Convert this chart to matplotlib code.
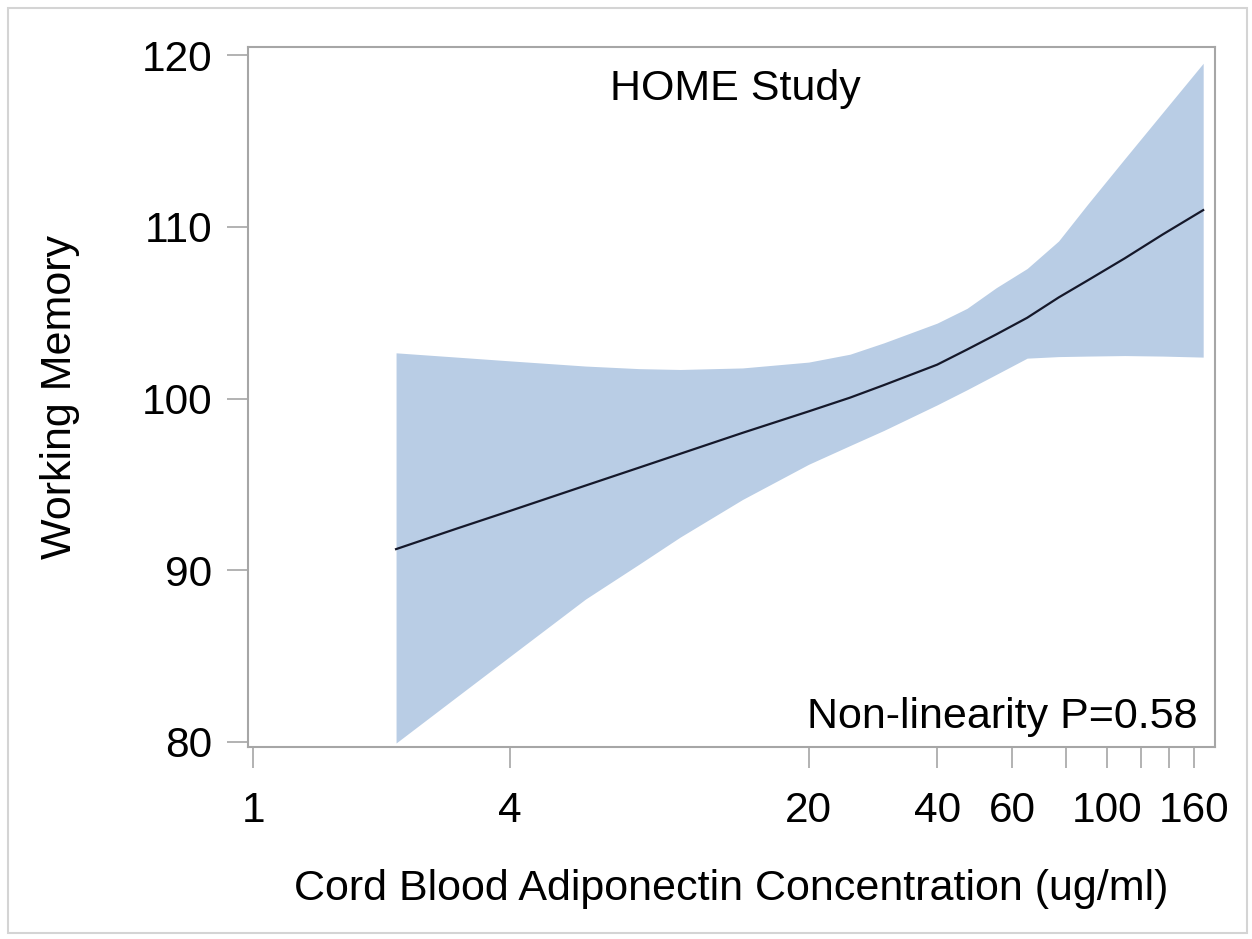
# ==========================================
# HOME STUDY - WORKING MEMORY vs ADIPONECTIN
# ==========================================

import matplotlib
matplotlib.use("Agg")
import matplotlib.pyplot as plt
from matplotlib.patches import Rectangle
from matplotlib.ticker import FixedLocator, NullLocator, NullFormatter

plt.rcParams["font.family"] = ["Liberation Sans", "DejaVu Sans"]

# ------------------------------------------
# 1. Data
# ------------------------------------------

adiponectin = [2.16, 3, 4, 6, 8, 10, 14, 20, 25, 30,
               40, 47, 55, 65, 77, 90, 110, 135, 168]

estimate = [91.23, 92.43, 93.46, 94.93, 95.97, 96.78, 98.00, 99.25, 100.05, 100.78,
            101.97, 102.85, 103.73, 104.70, 105.88, 106.87, 108.16, 109.55, 110.97]

upper_ci = [102.66, 102.41, 102.19, 101.89, 101.74, 101.69, 101.78, 102.12, 102.58, 103.24,
            104.39, 105.25, 106.45, 107.57, 109.17, 111.30, 113.96, 116.65, 119.52]

lower_ci = [79.94, 82.64, 85.00, 88.32, 90.34, 91.93, 94.12, 96.17, 97.26, 98.14,
            99.63, 100.51, 101.40, 102.35, 102.44, 102.47, 102.50, 102.47, 102.41]

x_ticks = [1, 4, 20, 40, 60, 80, 100, 120, 140, 160]
x_labels = ["1", "4", "20", "40", "60", "", "100", "", "", "160"]
y_ticks = [80, 90, 100, 110, 120]

# ------------------------------------------
# 2. Figure
# ------------------------------------------

fig = plt.figure(figsize=(12.52, 9.39), dpi=100)
ax = fig.add_axes([0.1981, 0.2045, 0.7723, 0.7455])

frame_color = "#A6A6A6"

ax.fill_between(adiponectin, lower_ci, upper_ci,
                color="#B9CDE5", linewidth=0)
ax.plot(adiponectin, estimate, color="#15182a", linewidth=1.6)

ax.set_xscale("log")
ax.set_xlim(0.972, 179)
ax.set_ylim(79.71, 120.47)

ax.xaxis.set_major_locator(FixedLocator(x_ticks))
ax.set_xticklabels(x_labels)
ax.xaxis.set_minor_locator(NullLocator())
ax.xaxis.set_minor_formatter(NullFormatter())
ax.set_yticks(y_ticks)

for spine in ax.spines.values():
    spine.set_color(frame_color)
    spine.set_linewidth(1.5)

ax.tick_params(axis="both", direction="out", length=15, width=1.2,
               color=frame_color, labelsize=30.5, labelcolor="black")
ax.tick_params(axis="x", pad=17)
ax.tick_params(axis="y", pad=11)

ax.set_xlabel("Cord Blood Adiponectin Concentration (ug/ml)",
              fontsize=31, labelpad=27)
ax.set_ylabel("Working Memory", fontsize=31, labelpad=44)

ax.text(0.5036, 0.924, "HOME Study", transform=ax.transAxes,
        ha="center", va="baseline", fontsize=31)
ax.text(0.9824, 0.0271, "Non-linearity P=0.58", transform=ax.transAxes,
        ha="right", va="baseline", fontsize=31)

# light outer frame around the whole picture
fig.patches.append(Rectangle((0.0064, 0.0064), 0.9896, 0.9851,
                             transform=fig.transFigure, fill=False,
                             edgecolor="#D4D4D4", linewidth=1.5))

plt.savefig("out.png", dpi=100)
